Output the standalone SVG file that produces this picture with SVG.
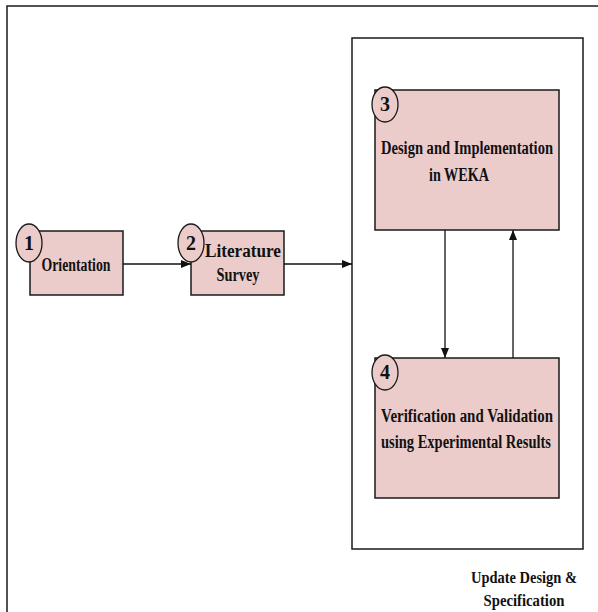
<svg xmlns="http://www.w3.org/2000/svg" width="598" height="612" viewBox="0 0 598 612">
<style>
.box{fill:#ECCCCB;stroke:#1a1a1a;stroke-width:1.5}
.num{fill:#ECCCCB;stroke:#1a1a1a;stroke-width:1.3}
.frame{fill:none;stroke:#1a1a1a;stroke-width:1.5}
text{font-family:"Liberation Serif","Times New Roman",serif;font-weight:bold;fill:#111;text-anchor:middle}
.t{font-size:18px}
.u{font-size:17px}
.n{font-size:20px}
.c{stroke:#111;stroke-width:1.3;fill:none}
</style>
<defs>
<marker id="ah" viewBox="0 0 10 10" refX="10" refY="5" markerWidth="10" markerHeight="10" markerUnits="userSpaceOnUse" orient="auto">
<path d="M0,1 L10,5 L0,9 Z" fill="#111"/>
</marker>
</defs>
<rect width="598" height="612" fill="#fff"/>
<g id="outer-frame">
<path class="frame" d="M7,612 V6 H598"/>
</g>
<g id="container">
<rect class="frame" x="352" y="38" width="231" height="511"/>
</g>
<g id="connectors">
<line class="c" x1="123" y1="264" x2="191" y2="264" marker-end="url(#ah)"/>
<line class="c" x1="284" y1="264" x2="352" y2="264" marker-end="url(#ah)"/>
<line class="c" x1="445" y1="230" x2="445" y2="358" marker-end="url(#ah)"/>
<line class="c" x1="513" y1="358" x2="513" y2="230" marker-end="url(#ah)"/>
</g>
<g id="node1">
<rect class="box" x="30" y="231" width="93" height="64"/>
<ellipse class="num" cx="29" cy="243" rx="13" ry="19"/>
<text class="n" x="29" y="250">1</text>
<text class="t" x="76" y="271" textLength="69" lengthAdjust="spacingAndGlyphs">Orientation</text>
</g>
<g id="node2">
<rect class="box" x="191" y="231" width="93" height="64"/>
<ellipse class="num" cx="191" cy="243" rx="13" ry="19"/>
<text class="n" x="191" y="250">2</text>
<text class="t" x="243" y="257" textLength="76" lengthAdjust="spacingAndGlyphs">Literature</text>
<text class="t" x="238" y="281" textLength="43" lengthAdjust="spacingAndGlyphs">Survey</text>
</g>
<g id="node3">
<rect class="box" x="375" y="90" width="184" height="140"/>
<ellipse class="num" cx="385" cy="104.5" rx="13" ry="17.5"/>
<text class="n" x="385" y="111">3</text>
<text class="t" x="467" y="154" textLength="172" lengthAdjust="spacingAndGlyphs">Design and Implementation</text>
<text class="t" x="459" y="181" textLength="60" lengthAdjust="spacingAndGlyphs">in WEKA</text>
</g>
<g id="node4">
<rect class="box" x="375" y="358" width="184" height="140"/>
<ellipse class="num" cx="385" cy="372.5" rx="13" ry="17.5"/>
<text class="n" x="385" y="379">4</text>
<text class="t" x="467" y="422" textLength="172" lengthAdjust="spacingAndGlyphs">Verification and Validation</text>
<text class="t" x="466" y="448" textLength="170" lengthAdjust="spacingAndGlyphs">using Experimental Results</text>
</g>
<g id="label-update">
<text class="u" x="524" y="583" textLength="106" lengthAdjust="spacingAndGlyphs">Update Design &amp;</text>
<text class="u" x="524" y="606" textLength="81" lengthAdjust="spacingAndGlyphs">Specification</text>
</g>
</svg>
